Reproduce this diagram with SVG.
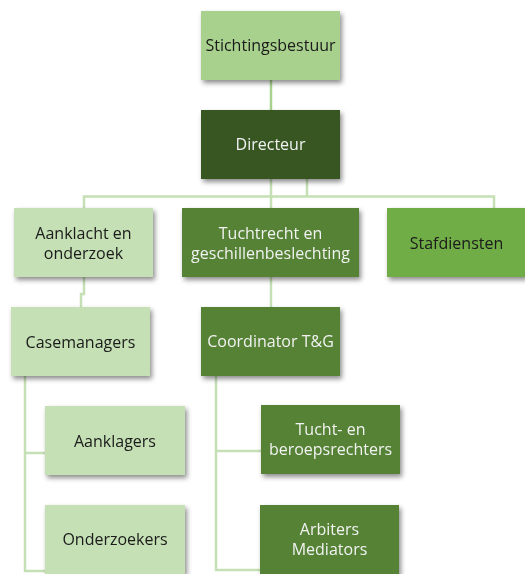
<svg xmlns="http://www.w3.org/2000/svg" width="525" height="574" viewBox="0 0 525 574">
<style>
.lt{fill:#C5E0B4}.md{fill:#A9D18E}.dk{fill:#375623}.g1{fill:#548235}.g2{fill:#70AD47}
text{font-family:"Open Sans","Noto Sans","Liberation Sans",sans-serif;font-size:16px;text-anchor:middle}
.b{fill:#1a1a1a}.w{fill:#f2f2f2}
.c{fill:none;stroke:#C5E0B4;stroke-width:2.5}
.c2{fill:none;stroke:#A9D18E;stroke-width:2.5}
</style>
<defs>
<filter id="sh" x="-10%" y="-10%" width="130%" height="140%">
<feDropShadow dx="2" dy="3" stdDeviation="2.5" flood-color="#000" flood-opacity="0.45"/>
</filter>
</defs>
<g id="connectors">
<path class="c2" d="M271 80V110"/>
<path class="c" d="M84 208V196.5H494V208M271 179V208M307 179V196.5"/>
<path class="c" d="M84 277V294H81V307"/>
<path class="c" d="M271 277V307"/>
<path class="c" d="M25 376V571H45M25 453H45"/>
<path class="c" d="M216 376V570H260M216 451H261"/>
</g>
<g id="stichtingsbestuur" filter="url(#sh)"><rect class="md" x="201" y="11" width="139" height="69"/><text class="b" x="270.5" y="51">Stichtingsbestuur</text></g>
<g id="directeur" filter="url(#sh)"><rect class="dk" x="201" y="110" width="139" height="69"/><text class="w" x="270.5" y="150">Directeur</text></g>
<g id="aanklacht" filter="url(#sh)"><rect class="lt" x="14" y="208" width="139" height="69"/><text class="b" x="83.5" y="239">Aanklacht en</text><text class="b" x="83.5" y="259">onderzoek</text></g>
<g id="tuchtrecht" filter="url(#sh)"><rect class="g1" x="182" y="208" width="177" height="69"/><text class="w" x="270.5" y="239">Tuchtrecht en</text><text class="w" x="270.5" y="259">geschillenbeslechting</text></g>
<g id="stafdiensten" filter="url(#sh)"><rect class="g2" x="387" y="208" width="139" height="69"/><text class="b" x="456.5" y="249">Stafdiensten</text></g>
<g id="casemanagers" filter="url(#sh)"><rect class="lt" x="11" y="307" width="139" height="69"/><text class="b" x="80.5" y="348">Casemanagers</text></g>
<g id="coordinator" filter="url(#sh)"><rect class="g1" x="201" y="307" width="139" height="69"/><text class="w" x="270.5" y="347">Coordinator T&amp;G</text></g>
<g id="aanklagers" filter="url(#sh)"><rect class="lt" x="45" y="406" width="140" height="69"/><text class="b" x="115" y="447">Aanklagers</text></g>
<g id="onderzoekers" filter="url(#sh)"><rect class="lt" x="45" y="505" width="140" height="69"/><text class="b" x="115" y="545">Onderzoekers</text></g>
<g id="tuchtrechters" filter="url(#sh)"><rect class="g1" x="261" y="405" width="139" height="69"/><text class="w" x="330.5" y="435">Tucht- en</text><text class="w" x="330.5" y="455">beroepsrechters</text></g>
<g id="arbiters" filter="url(#sh)"><rect class="g1" x="260" y="505" width="139" height="69"/><text class="w" x="329.5" y="535">Arbiters</text><text class="w" x="329.5" y="555">Mediators</text></g>
</svg>
